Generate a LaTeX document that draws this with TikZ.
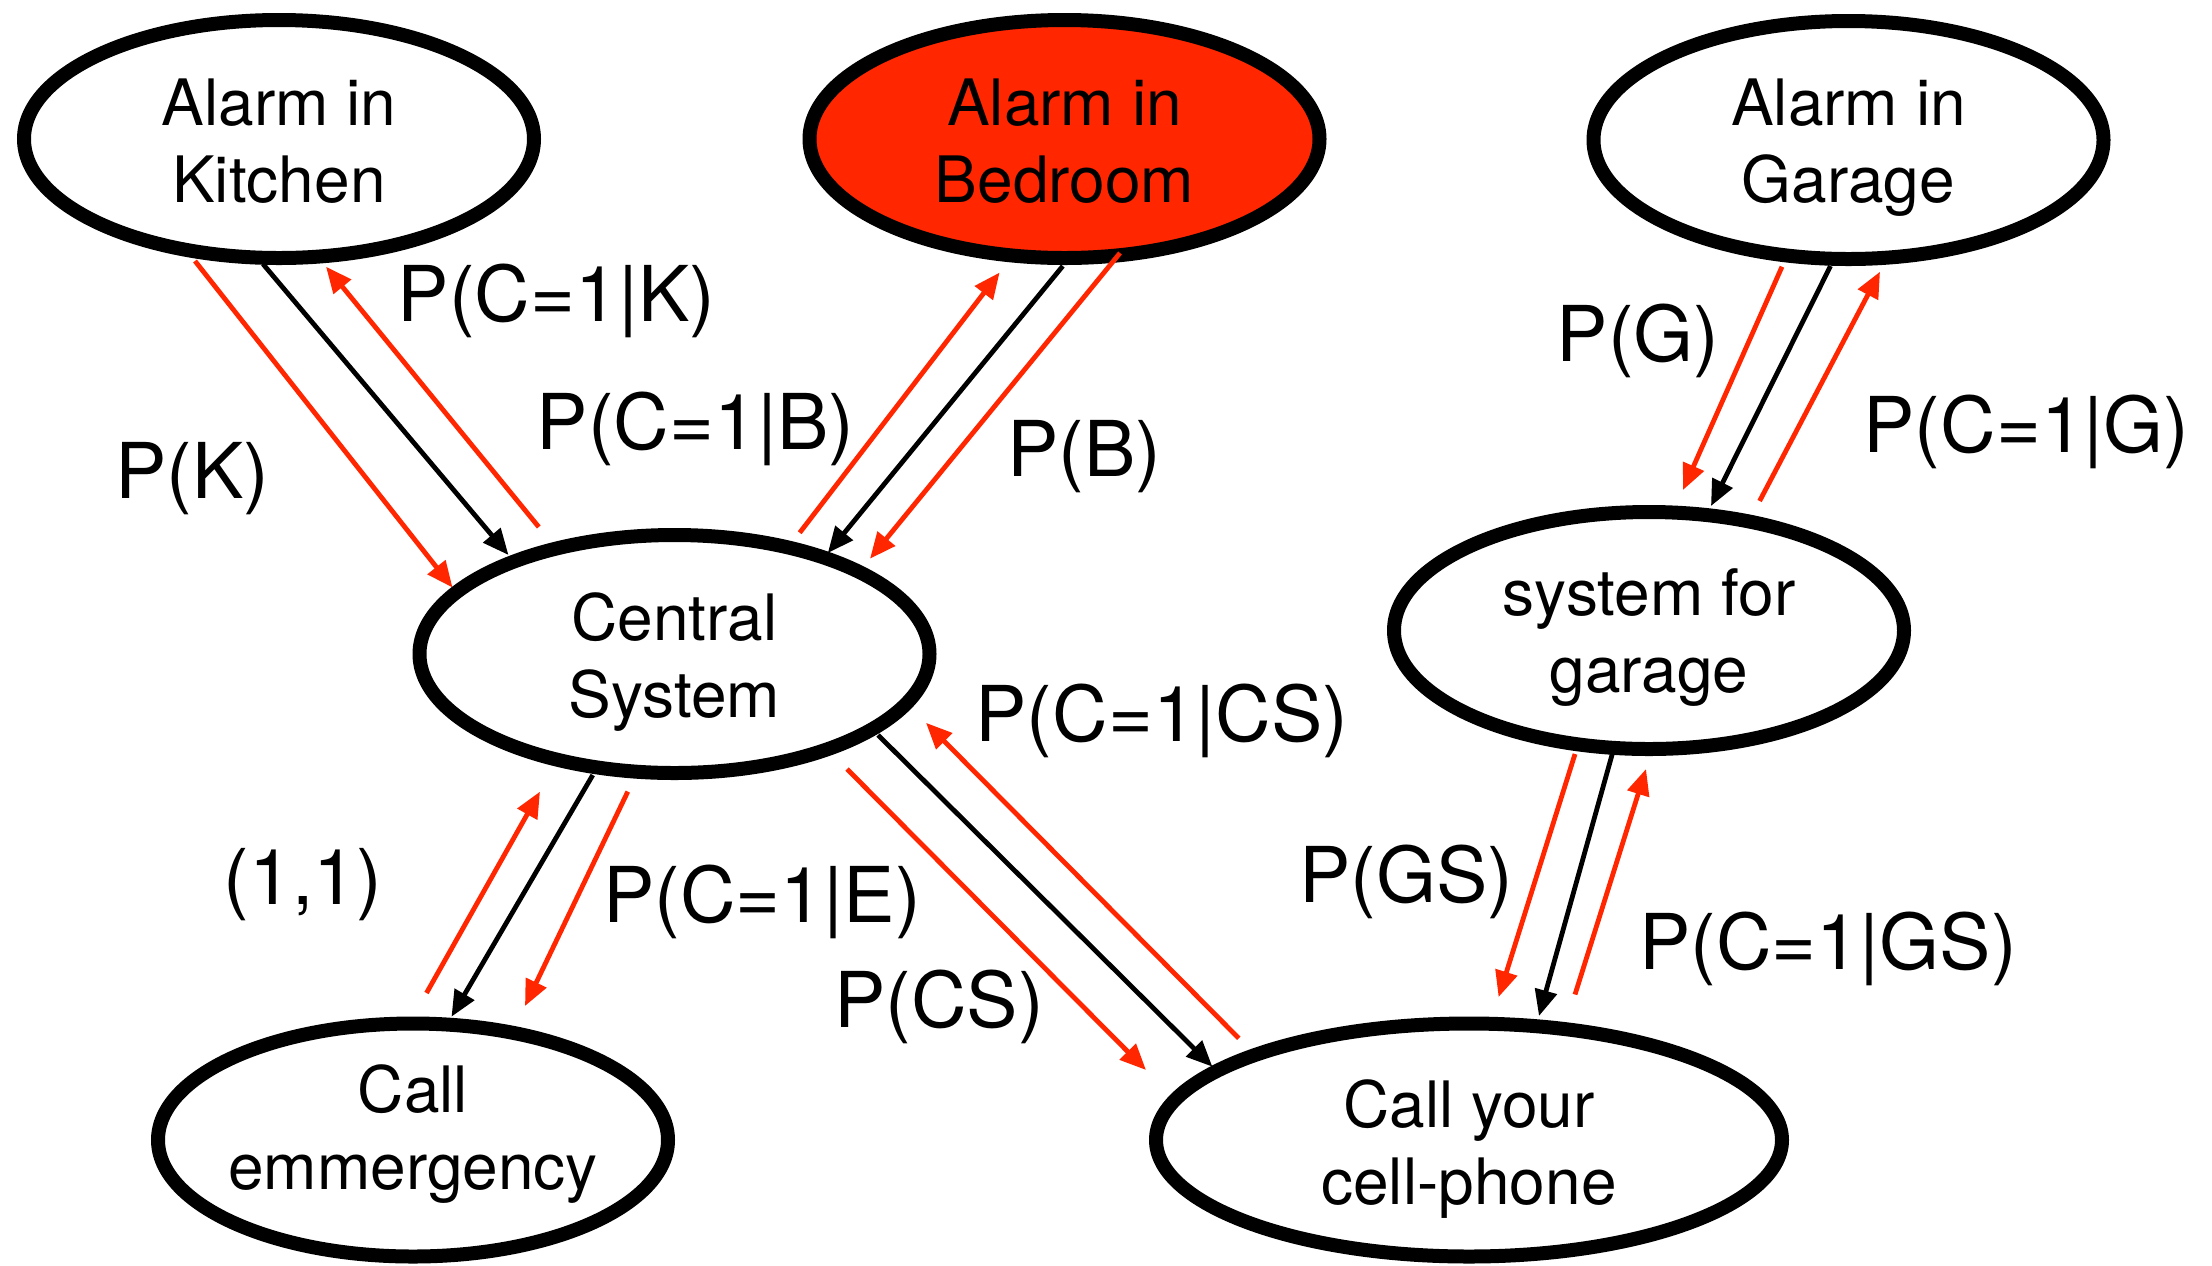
\documentclass[tikz,border=0pt]{standalone}
\usepackage{fontspec}
\setmainfont{TeX Gyre Heros}
\usetikzlibrary{shapes.geometric,arrows.meta,calc}
\definecolor{kred}{RGB}{255,38,0}
\begin{document}
\begin{tikzpicture}[x=0.5pt,y=-0.5pt,
  ell/.style={ellipse, draw=black, line width=7pt, inner sep=0pt, outer sep=0pt, fill=white},
  ntext/.style={font=\fontsize{32}{38.5}\selectfont, align=center, inner sep=0pt},
  lbl/.style={font=\fontsize{38.5}{46}\selectfont, anchor=base, inner sep=0pt},
  blk/.style={draw=black, line width=2.4pt, -{Triangle[length=13pt,width=11pt]}},
  rd/.style={draw=kred, line width=2.4pt, -{Triangle[length=13pt,width=11pt]}},
]
\fill[white] (0,0) rectangle (2212,1265);
\useasboundingbox (0,0) rectangle (2212,1265);

% ellipses
\node[ell, minimum width=255pt, minimum height=119pt,
  label={[ntext, yshift=-4.8pt]center:{\strut Alarm in\\\strut Kitchen}}] (kitchen) at (279,139) {};
\node[ell, fill=kred, minimum width=255pt, minimum height=119pt,
  label={[ntext, yshift=-4.8pt]center:{\strut Alarm in\\\strut Bedroom}}] (bedroom) at (1064.5,139) {};
\node[ell, minimum width=255pt, minimum height=119pt,
  label={[ntext, yshift=-4.3pt]center:{\strut Alarm in\\\strut Garage}}] (garage) at (1848.5,140) {};
\node[ell, minimum width=255pt, minimum height=119pt,
  label={[ntext, yshift=-5pt]center:{\strut Central\\\strut System}}] (central) at (674.5,654) {};
\node[ell, minimum width=255pt, minimum height=118.5pt,
  label={[ntext, yshift=-3.8pt]center:{\strut system for\\\strut garage}}] (gsys) at (1649,630.5) {};
\node[ell, minimum width=255pt, minimum height=116.5pt,
  label={[ntext, yshift=2.1pt]center:{\strut Call\\\strut emmergency}}] (emerg) at (413,1140) {};
\node[ell, minimum width=313pt, minimum height=116.5pt,
  label={[ntext, yshift=-5.5pt]center:{\strut Call your\\\strut cell-phone}}] (cell) at (1469,1140) {};

% kitchen <-> central
\draw[rd]  ($(kitchen)+(-84,122)$) -- ($(central)+(-222,-66.5)$);
\draw[blk] ($(kitchen)+(-16,125)$) -- ($(central)+(-166,-99)$);
\draw[rd]  ($(central)+(-135.7,-127)$) -- ($(kitchen)+(47,127.7)$);

% bedroom <-> central
\draw[rd]  ($(central)+(125.2,-121.3)$) -- ($(bedroom)+(-64.9,133.5)$);
\draw[blk] ($(bedroom)+(-1.7,127)$) -- ($(central)+(153.3,-101)$);
\draw[rd]  ($(bedroom)+(55.5,114)$) -- ($(central)+(195.5,-95.3)$);

% garage <-> system for garage
\draw[rd]  ($(garage)+(-66.5,126.7)$) -- ($(gsys)+(34,-140.5)$);
\draw[blk] ($(garage)+(-18,126)$) -- ($(gsys)+(62,-124.5)$);
\draw[rd]  ($(gsys)+(110.6,-129.5)$) -- ($(garage)+(31.5,131.7)$);

% central <-> emergency
\draw[rd]  ($(emerg)+(13.5,-147)$) -- ($(central)+(-134.5,137.6)$);
\draw[blk] ($(central)+(-81.7,121)$) -- ($(emerg)+(38.5,-123.3)$);
\draw[rd]  ($(central)+(-46.7,137.6)$) -- ($(emerg)+(112,-134)$);

% central <-> cell
\draw[rd]  ($(central)+(172.5,115)$) -- ($(cell)+(-323,-70)$);
\draw[blk] ($(central)+(203.5,81)$) -- ($(cell)+(-256.6,-73.3)$);
\draw[rd]  ($(cell)+(-230.2,-101.7)$) -- ($(central)+(251.5,68.8)$);

% system for garage <-> cell
\draw[rd]  ($(gsys)+(-74,123.5)$) -- ($(cell)+(29.6,-143)$);
\draw[blk] ($(gsys)+(-33.4,111.5)$) -- ($(cell)+(70,-124)$);
\draw[rd]  ($(cell)+(106,-145.5)$) -- ($(gsys)+(-3,138.5)$);

% labels
\node[lbl] (l1) at (556.5,321.5) {P(C=1|K)};
\node[lbl] (l2) at (192,498) {P(K)};
\node[lbl] (l3) at (695.5,449.7) {P(C=1|B)};
\node[lbl] (l4) at (1084,476.5) {P(B)};
\node[lbl] (l5) at (1638,361.7) {P(G)};
\node[lbl] (l6) at (2026.5,452.7) {P(C=1|G)};
\node[lbl] (l7) at (1162,741) {P(C=1|CS)};
\node[lbl] (l8) at (303,904) {(1,1)};
\node[lbl] (l9) at (762,922) {P(C=1|E)};
\node[lbl] (l10) at (939,1027.6) {P(CS)};
\node[lbl] (l11) at (1406.5,902.6) {P(GS)};
\node[lbl] (l12) at (1828,969) {P(C=1|GS)};
\end{tikzpicture}
\end{document}
